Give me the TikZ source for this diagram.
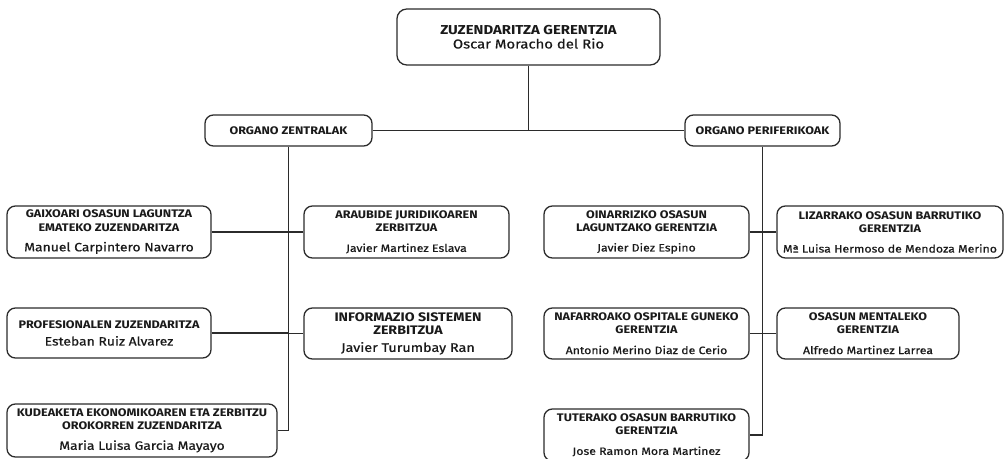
\documentclass[tikz,border=0pt]{standalone}
\usepackage{fontspec}
\setmainfont{Fira Sans}
\newfontfamily\headfam[FakeStretch=1.15]{Fira Sans}
\newfontfamily\namefam[FakeStretch=1.15, FakeBold=0.6]{Fira Sans}
\definecolor{orgLine}{HTML}{2B2B2B}
\definecolor{orgText}{HTML}{1A1A1A}
\newcommand{\headtxt}{\headfam\fontsize{7.8}{9.4}\selectfont\bfseries}
\newcommand{\bighead}{\headfam\fontsize{8.8}{10}\selectfont\bfseries}
\newcommand{\nametxt}{\namefam\fontsize{8.6}{9.4}\selectfont}
\newcommand{\smallname}{\namefam\fontsize{7.6}{9.4}\selectfont}

\begin{document}
\begin{tikzpicture}[x=0.025cm, y=-0.025cm, font=\fontsize{8}{9.4}\selectfont, text=orgText,
    unitbox/.style={draw=orgLine, line width=0.9pt, rounded corners=6pt, align=center, inner sep=1pt, fill=white},
    link/.style={draw=orgLine, line width=1.05pt}]
  \useasboundingbox (0,0) rectangle (1007,459);

  % goiko zuzendaritza
  \node[unitbox, rounded corners=7pt, minimum width=6.575cm, minimum height=1.4cm] (gerentzia) at (528.5,37)
    {{\headfam\fontsize{9.2}{10.4}\selectfont\bfseries ZUZENDARITZA GERENTZIA}\\[0.5pt]{\namefam\fontsize{9.2}{10.4}\selectfont Oscar Moracho del Rio}};

  % bi organoak
  \node[unitbox, minimum width=4.175cm, minimum height=0.775cm] (zentral) at (288.5,130.5) {\headtxt ORGANO ZENTRALAK};
  \node[unitbox, minimum width=3.875cm, minimum height=0.775cm] (periferi) at (762.5,130.5) {\headtxt ORGANO PERIFERIKOAK};

  % organo zentralak
  \node[unitbox, minimum width=5.1cm, minimum height=1.3cm] (gaixoari) at (109,232)
    {{\headtxt GAIXOARI OSASUN LAGUNTZA}\\{\headtxt EMATEKO ZUZENDARITZA}\\[5pt]{\nametxt Manuel Carpintero Navarro}};
  \node[unitbox, minimum width=5.125cm, minimum height=1.3cm] (araubide) at (406.5,232)
    {{\headtxt ARAUBIDE JURIDIKOAREN}\\{\headtxt ZERBITZUA}\\[5pt]{\smallname Javier Martinez Eslava}};
  \node[unitbox, minimum width=5.1cm, minimum height=1.25cm] (profes) at (109,333)
    {{\headtxt PROFESIONALEN ZUZENDARITZA}\\[3pt]{\nametxt Esteban Ruiz Alvarez}};
  \node[unitbox, minimum width=5.2cm, minimum height=1.275cm] (informa) at (408,333.5)
    {{\bighead INFORMAZIO SISTEMEN}\\{\bighead ZERBITZUA}\\[3pt]{\namefam\fontsize{8.9}{10}\selectfont Javier Turumbay Ran}};
  \node[unitbox, minimum width=6.75cm, minimum height=1.325cm] (kudeak) at (142,430.5)
    {{\headtxt KUDEAKETA EKONOMIKOAREN ETA ZERBITZU}\\{\headtxt OROKORREN ZUZENDARITZA}\\[5pt]{\nametxt Maria Luisa Garcia Mayayo}};

  % organo periferikoak
  \node[unitbox, minimum width=5.125cm, minimum height=1.3cm] (oinarri) at (646.5,232)
    {{\headtxt OINARRIZKO OSASUN}\\{\headtxt LAGUNTZAKO GERENTZIA}\\[5pt]{\smallname Javier Diez Espino}};
  \node[unitbox, minimum width=5.65cm, minimum height=1.3cm] (lizarra) at (890,232)
    {{\headtxt LIZARRAKO OSASUN BARRUTIKO}\\{\headtxt GERENTZIA}\\[5pt]{\smallname Mª Luisa Hermoso de Mendoza Merino}};
  \node[unitbox, minimum width=5.125cm, minimum height=1.275cm] (nafarro) at (646.5,333.5)
    {{\headtxt NAFARROAKO OSPITALE GUNEKO}\\{\headtxt GERENTZIA}\\[5pt]{\smallname Antonio Merino Diaz de Cerio}};
  \node[unitbox, minimum width=4.55cm, minimum height=1.275cm] (mental) at (868,333.5)
    {{\headtxt OSASUN MENTALEKO}\\{\headtxt GERENTZIA}\\[5pt]{\smallname Alfredo Martinez Larrea}};
  \node[unitbox, minimum width=5.125cm, minimum height=1.3cm] (tuter) at (646.5,435)
    {{\headtxt TUTERAKO OSASUN BARRUTIKO}\\{\headtxt GERENTZIA}\\[5pt]{\smallname Jose Ramon Mora Martinez}};

  % loturak
  \draw[link] (gerentzia.south) -- (gerentzia.south |- zentral.east);
  \draw[link] (zentral.east) -- (periferi.west);
  \draw[link] (zentral.south) |- (kudeak.east);
  \draw[link] (periferi.south) |- (tuter.east);
  \foreach \a in {gaixoari, profes}
    \draw[link] (\a.east) -- (\a.east -| zentral.south);
  \foreach \a in {araubide, informa}
    \draw[link] (\a.west) -- (\a.west -| zentral.south);
  \foreach \a in {oinarri, nafarro}
    \draw[link] (\a.east) -- (\a.east -| periferi.south);
  \foreach \a in {lizarra, mental}
    \draw[link] (\a.west) -- (\a.west -| periferi.south);
\end{tikzpicture}
\end{document}
